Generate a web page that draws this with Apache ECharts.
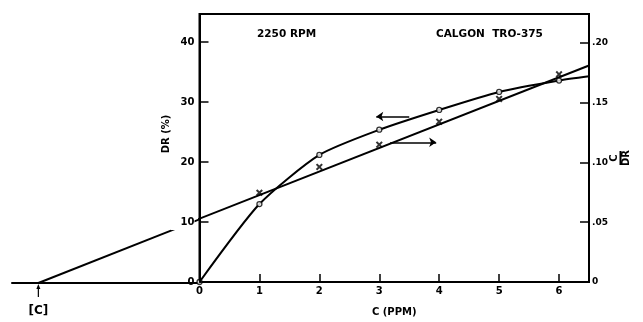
<!DOCTYPE html>
<html>
<head>
<meta charset="utf-8">
<script src="https://cdn.jsdelivr.net/npm/echarts@6/dist/echarts.min.js"></script>
<style>
  html, body { margin: 0; background: #fff; }
  #main { width: 643px; height: 322px; }
</style>
</head>
<body>
<div id="main"></div>
<script>
// drag reduction DR (%) vs concentration, open circles
const concPpm = [0, 1, 2, 3, 4, 5, 6];
const dragReduction = [0, 13.0, 21.2, 25.4, 28.7, 31.7, 33.6];
// where the drawn curve meets the right edge
const curveEnd = [6.5, 34.3];

// C/DR vs concentration, crosses
const concX = [1, 2, 3, 4, 5, 6];
const cOverDr = [0.0746, 0.0962, 0.1148, 0.134, 0.153, 0.1736];

// straight line through the crosses, from the [C] intercept to the right edge
const fitLineC = [-2.69, 6.5];
const fitLineRatio = [0, 0.181];

// the two direction arrows
const drArrow = { from: 2.95, to: 3.5, level: 27.6 };
const ratioArrow = { from: 3.18, to: 3.95, level: 0.1168 };

const leftTicks = [0, 10, 20, 30, 40];
const rightTicks = ['0', '.05', '.10', '.15', '.20'];

const FONT = 'DejaVu Sans';
const txt = { color: '#000', fontFamily: FONT, fontWeight: 'bold', fontSize: 10 };

const curveData = concPpm.map((c, i) => [c, dragReduction[i]]).concat([curveEnd]);
const fitData = fitLineC.map((c, i) => [c, fitLineRatio[i]]);
const crossPath = 'path://M0,2L2,0L5,3L8,0L10,2L7,5L10,8L8,10L5,7L2,10L0,8L3,5Z';

const chart = echarts.init(document.getElementById('main'));

chart.setOption({
  animation: false,
  backgroundColor: '#fff',
  grid: [
    { left: 199.5, right: 54, top: 14, bottom: 39, show: true, borderColor: '#000', borderWidth: 2 },
    { left: 12, right: 643 - 199.5, top: 14, bottom: 39 }
  ],
  xAxis: [
    {
      type: 'value', gridIndex: 0, min: 0, max: 6.5, interval: 1,
      name: 'C (PPM)', nameLocation: 'middle', nameGap: 25, nameMoveOverlap: false,
      nameTextStyle: Object.assign({}, txt),
      axisLine: { lineStyle: { color: '#000', width: 2 } },
      axisTick: { inside: true, length: 8, lineStyle: { color: '#000', width: 1.5 } },
      axisLabel: Object.assign({
        margin: 4,
        formatter: v => Number.isInteger(v) ? String(v) : ''
      }, txt),
      splitLine: { show: false }
    },
    {
      type: 'value', gridIndex: 1, min: -3.13, max: 0,
      axisLine: { onZero: false, lineStyle: { color: '#000', width: 2 } },
      axisTick: { show: false }, axisLabel: { show: false }, splitLine: { show: false }
    }
  ],
  yAxis: [
    {
      type: 'value', gridIndex: 0, min: 0, max: 44.7, interval: 10, z: 10,
      name: 'DR (%)', nameLocation: 'middle', nameGap: 28, nameRotate: 90, nameMoveOverlap: false,
      nameTextStyle: Object.assign({ padding: [0, 0, 0, 28] }, txt),
      axisLine: { lineStyle: { color: '#000', width: 2 } },
      axisTick: { inside: true, length: 9, lineStyle: { color: '#000', width: 1.5 } },
      axisLabel: Object.assign({
        margin: 5,
        formatter: v => leftTicks.indexOf(v) < 0 ? '' : (v === 10 ? '{gap|10}' : String(v)),
        rich: { gap: Object.assign({ backgroundColor: '#fff', padding: [3, 0, 3, 10] }, txt) }
      }, txt),
      splitLine: { show: false }
    },
    {
      type: 'value', gridIndex: 0, min: 0, max: 0.224, interval: 0.05, position: 'right',
      name: '{c|C}\n{bar|}\n{d|DR}', nameLocation: 'middle', nameGap: 21, nameRotate: 90, nameMoveOverlap: false,
      nameTextStyle: Object.assign({
        padding: [0, 20, 0, 0],
        rich: {
          c: Object.assign({ align: 'center', lineHeight: 9 }, txt),
          bar: { width: 14, height: 2, lineHeight: 3, backgroundColor: '#000', align: 'center' },
          d: Object.assign({ align: 'center', lineHeight: 9, fontSize: 8 }, txt)
        }
      }, txt),
      axisLine: { lineStyle: { color: '#000', width: 2 } },
      axisTick: { inside: true, length: 9, lineStyle: { color: '#000', width: 1.5 } },
      axisLabel: Object.assign({
        margin: 3,
        formatter: v => {
          const k = v / 0.05;
          return Math.abs(k - Math.round(k)) < 1e-6 ? rightTicks[Math.round(k)] : '';
        }
      }, txt, { fontSize: 9 }),
      splitLine: { show: false }
    },
    { type: 'value', gridIndex: 1, min: 0, max: 0.224, show: false }
  ],
  series: [
    {
      type: 'line', xAxisIndex: 1, yAxisIndex: 2, data: fitData, clip: true,
      showSymbol: false, lineStyle: { color: '#000', width: 2 }
    },
    {
      type: 'line', xAxisIndex: 0, yAxisIndex: 1, data: fitData, clip: true,
      showSymbol: false, lineStyle: { color: '#000', width: 2 },
      markLine: {
        silent: true, symbol: ['none', 'arrow'], symbolSize: 7,
        label: { show: false },
        lineStyle: { color: '#000', width: 1.5, type: 'solid' },
        data: [[{ coord: [ratioArrow.from, ratioArrow.level] }, { coord: [ratioArrow.to, ratioArrow.level] }]]
      }
    },
    {
      type: 'line', xAxisIndex: 0, yAxisIndex: 0, data: curveData, smooth: 0.22,
      showSymbol: false, lineStyle: { color: '#000', width: 2 },
      markLine: {
        silent: true, symbol: ['arrow', 'none'], symbolSize: 7,
        label: { show: false },
        lineStyle: { color: '#000', width: 1.5, type: 'solid' },
        data: [[{ coord: [drArrow.from, drArrow.level] }, { coord: [drArrow.to, drArrow.level] }]]
      }
    },
    {
      type: 'scatter', xAxisIndex: 0, yAxisIndex: 0, z: 5,
      data: concPpm.map((c, i) => [c, dragReduction[i]]),
      symbol: 'circle', symbolSize: 5,
      itemStyle: { color: '#fff', borderColor: '#000', borderWidth: 1.3 }
    },
    {
      type: 'scatter', xAxisIndex: 0, yAxisIndex: 1, z: 5,
      data: concX.map((c, i) => [c, cOverDr[i]]),
      symbol: crossPath, symbolSize: 7,
      itemStyle: { color: '#000' }
    }
  ]
});

// [C] marker under the intercept of the straight line
const p = chart.convertToPixel({ xAxisIndex: 1, yAxisIndex: 2 }, [fitLineC[0], 0]);
chart.setOption({
  graphic: [
    { type: 'text', left: 257, top: 29, style: Object.assign({ text: '2250 RPM' }, txt, { fill: '#000', fontSize: 10.5 }) },
    { type: 'text', left: 436, top: 29, style: Object.assign({ text: 'CALGON  TRO-375' }, txt, { fill: '#000', fontSize: 10.5 }) },
    { type: 'line', shape: { x1: p[0], y1: p[1] + 14, x2: p[0], y2: p[1] + 5 }, style: { stroke: '#000', lineWidth: 1.2 } },
    { type: 'polygon', shape: { points: [[p[0] - 2, p[1] + 6], [p[0] + 2, p[1] + 6], [p[0], p[1] + 1]] }, style: { fill: '#000' } },
    { type: 'text', x: p[0], y: p[1] + 28, style: { text: '[C]', fill: '#000', font: 'bold 12px "DejaVu Sans"', align: 'center', verticalAlign: 'middle' } }
  ]
});
</script>
</body>
</html>
